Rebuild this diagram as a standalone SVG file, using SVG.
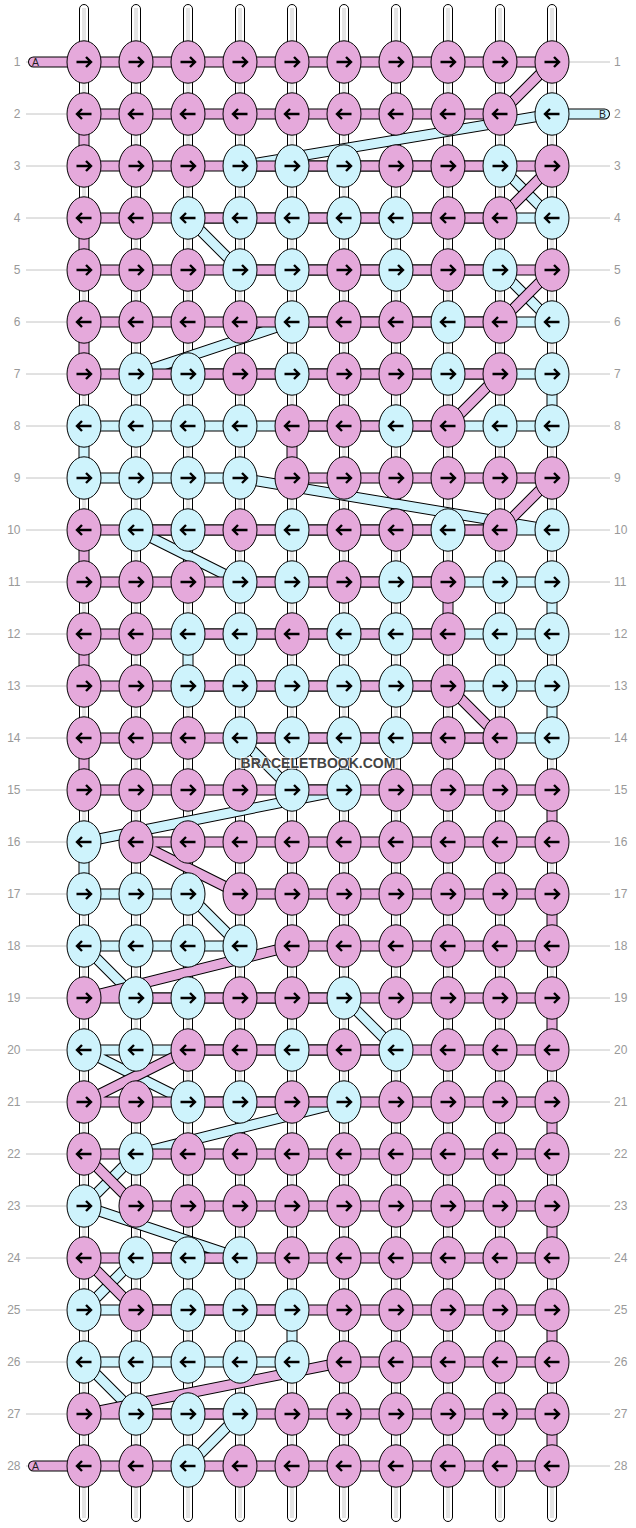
<svg xmlns="http://www.w3.org/2000/svg" width="636" height="1528" viewBox="0 0 636 1528">
<style>
.s{fill:#fff;stroke:#000;stroke-width:1}
.sc{stroke:#bdbdbd;stroke-width:0.8}
.g{stroke:#c4c4c4;stroke-width:1}
.o{fill:none;stroke:#000;stroke-width:11;stroke-linejoin:round;stroke-linecap:round}
.fp{fill:none;stroke:#E5A9DB;stroke-width:9;stroke-linejoin:round;stroke-linecap:round}
.fb{fill:none;stroke:#CEF3FC;stroke-width:9;stroke-linejoin:round;stroke-linecap:round}
.p{fill:#E5A9DB;stroke:#000;stroke-width:1}
.b{fill:#CEF3FC;stroke:#000;stroke-width:1}
.a{fill:none;stroke:#000;stroke-width:2.4}
.n{font-family:"Liberation Sans",Arial,sans-serif;font-size:12px;fill:#999}
.nl{text-anchor:end}
.t{font-family:"Liberation Sans",Arial,sans-serif;font-size:10.5px;fill:#222}
.w{font-family:"Liberation Sans",Arial,sans-serif;font-size:14px;font-weight:bold;fill:#444;text-anchor:middle;stroke:#fff;stroke-width:2;paint-order:stroke;stroke-opacity:0.7}
</style>
<defs>
<path id="R" class="a" d="M-7.5,0H6M2,-5L7,0L2,5"/>
<path id="L" class="a" d="M7.5,0H-6M-2,-5L-7,0L-2,5"/>
</defs>
<g id="strings">
<rect class="s" x="79.5" y="4.5" width="9" height="1517" rx="4.5"/><line class="sc" x1="83" y1="8" x2="83" y2="1518"/><line class="sc" x1="85" y1="8" x2="85" y2="1518"/>
<rect class="s" x="131.5" y="4.5" width="9" height="1517" rx="4.5"/><line class="sc" x1="135" y1="8" x2="135" y2="1518"/><line class="sc" x1="137" y1="8" x2="137" y2="1518"/>
<rect class="s" x="183.5" y="4.5" width="9" height="1517" rx="4.5"/><line class="sc" x1="187" y1="8" x2="187" y2="1518"/><line class="sc" x1="189" y1="8" x2="189" y2="1518"/>
<rect class="s" x="235.5" y="4.5" width="9" height="1517" rx="4.5"/><line class="sc" x1="239" y1="8" x2="239" y2="1518"/><line class="sc" x1="241" y1="8" x2="241" y2="1518"/>
<rect class="s" x="287.5" y="4.5" width="9" height="1517" rx="4.5"/><line class="sc" x1="291" y1="8" x2="291" y2="1518"/><line class="sc" x1="293" y1="8" x2="293" y2="1518"/>
<rect class="s" x="339.5" y="4.5" width="9" height="1517" rx="4.5"/><line class="sc" x1="343" y1="8" x2="343" y2="1518"/><line class="sc" x1="345" y1="8" x2="345" y2="1518"/>
<rect class="s" x="391.5" y="4.5" width="9" height="1517" rx="4.5"/><line class="sc" x1="395" y1="8" x2="395" y2="1518"/><line class="sc" x1="397" y1="8" x2="397" y2="1518"/>
<rect class="s" x="443.5" y="4.5" width="9" height="1517" rx="4.5"/><line class="sc" x1="447" y1="8" x2="447" y2="1518"/><line class="sc" x1="449" y1="8" x2="449" y2="1518"/>
<rect class="s" x="495.5" y="4.5" width="9" height="1517" rx="4.5"/><line class="sc" x1="499" y1="8" x2="499" y2="1518"/><line class="sc" x1="501" y1="8" x2="501" y2="1518"/>
<rect class="s" x="547.5" y="4.5" width="9" height="1517" rx="4.5"/><line class="sc" x1="551" y1="8" x2="551" y2="1518"/><line class="sc" x1="553" y1="8" x2="553" y2="1518"/>
</g>
<g id="guides">
<path class="g" d="M26,62H66M570,62H610M26,114H66M570,114H610M26,166H66M570,166H610M26,218H66M570,218H610M26,270H66M570,270H610M26,322H66M570,322H610M26,374H66M570,374H610M26,426H66M570,426H610M26,478H66M570,478H610M26,530H66M570,530H610M26,582H66M570,582H610M26,634H66M570,634H610M26,686H66M570,686H610M26,738H66M570,738H610M26,790H66M570,790H610M26,842H66M570,842H610M26,894H66M570,894H610M26,946H66M570,946H610M26,998H66M570,998H610M26,1050H66M570,1050H610M26,1102H66M570,1102H610M26,1154H66M570,1154H610M26,1206H66M570,1206H610M26,1258H66M570,1258H610M26,1310H66M570,1310H610M26,1362H66M570,1362H610M26,1414H66M570,1414H610M26,1466H66M570,1466H610"/>
</g>
<g id="connectors">
<g id="stringB">
<path class="o" d="M604.5,114 L552,114 L240,166 L500,166 L552,218 L188,218 L240,270 L500,270 L552,322 L292,322 L136,374 L552,374 L552,426 L84,426 L84,478 L240,478 L552,530 L136,530 L240,582 L552,582 L552,634 L188,634 L188,686 L552,686 L552,738 L240,738 L292,790 L344,790 L84,842 L84,894 L188,894 L240,946 L84,946 L136,998 L344,998 L396,1050 L84,1050 L188,1102 L344,1102 L136,1154 L84,1206 L240,1258 L136,1258 L84,1310 L292,1310 L292,1362 L84,1362 L136,1414 L240,1414 L188,1466"/>
<path class="fb" d="M604.5,114 L552,114 L240,166 L500,166 L552,218 L188,218 L240,270 L500,270 L552,322 L292,322 L136,374 L552,374 L552,426 L84,426 L84,478 L240,478 L552,530 L136,530 L240,582 L552,582 L552,634 L188,634 L188,686 L552,686 L552,738 L240,738 L292,790 L344,790 L84,842 L84,894 L188,894 L240,946 L84,946 L136,998 L344,998 L396,1050 L84,1050 L188,1102 L344,1102 L136,1154 L84,1206 L240,1258 L136,1258 L84,1310 L292,1310 L292,1362 L84,1362 L136,1414 L240,1414 L188,1466"/>
</g>
<g id="stringA">
<path class="o" d="M33.5,62 L84,62 L552,62 L500,114 L84,114 L84,166 L552,166 L500,218 L84,218 L84,270 L552,270 L500,322 L84,322 L84,374 L500,374 L448,426 L292,426 L292,478 L552,478 L500,530 L84,530 L84,582 L448,582 L448,634 L84,634 L84,686 L448,686 L500,738 L84,738 L84,790 L552,790 L552,842 L136,842 L240,894 L552,894 L552,946 L292,946 L84,998 L552,998 L552,1050 L188,1050 L84,1102 L552,1102 L552,1154 L84,1154 L136,1206 L552,1206 L552,1258 L84,1258 L136,1310 L552,1310 L552,1362 L344,1362 L84,1414 L552,1414 L552,1466 L33.5,1466"/>
<path class="fp" d="M33.5,62 L84,62 L552,62 L500,114 L84,114 L84,166 L552,166 L500,218 L84,218 L84,270 L552,270 L500,322 L84,322 L84,374 L500,374 L448,426 L292,426 L292,478 L552,478 L500,530 L84,530 L84,582 L448,582 L448,634 L84,634 L84,686 L448,686 L500,738 L84,738 L84,790 L552,790 L552,842 L136,842 L240,894 L552,894 L552,946 L292,946 L84,998 L552,998 L552,1050 L188,1050 L84,1102 L552,1102 L552,1154 L84,1154 L136,1206 L552,1206 L552,1258 L84,1258 L136,1310 L552,1310 L552,1362 L344,1362 L84,1414 L552,1414 L552,1466 L33.5,1466"/>
</g>
</g>
<g id="tail-labels">
<text class="t" x="32" y="66">A</text>
<text class="t" x="32" y="1470">A</text>
<text class="t" x="599" y="118">B</text>
</g>
<g id="nodes">
<g id="k1-1"><ellipse class="p" cx="84" cy="62" rx="17" ry="21.2"/><use href="#R" x="84" y="62"/></g>
<g id="k1-2"><ellipse class="p" cx="136" cy="62" rx="17" ry="21.2"/><use href="#R" x="136" y="62"/></g>
<g id="k1-3"><ellipse class="p" cx="188" cy="62" rx="17" ry="21.2"/><use href="#R" x="188" y="62"/></g>
<g id="k1-4"><ellipse class="p" cx="240" cy="62" rx="17" ry="21.2"/><use href="#R" x="240" y="62"/></g>
<g id="k1-5"><ellipse class="p" cx="292" cy="62" rx="17" ry="21.2"/><use href="#R" x="292" y="62"/></g>
<g id="k1-6"><ellipse class="p" cx="344" cy="62" rx="17" ry="21.2"/><use href="#R" x="344" y="62"/></g>
<g id="k1-7"><ellipse class="p" cx="396" cy="62" rx="17" ry="21.2"/><use href="#R" x="396" y="62"/></g>
<g id="k1-8"><ellipse class="p" cx="448" cy="62" rx="17" ry="21.2"/><use href="#R" x="448" y="62"/></g>
<g id="k1-9"><ellipse class="p" cx="500" cy="62" rx="17" ry="21.2"/><use href="#R" x="500" y="62"/></g>
<g id="k1-10"><ellipse class="p" cx="552" cy="62" rx="17" ry="21.2"/><use href="#R" x="552" y="62"/></g>
<g id="k2-1"><ellipse class="p" cx="84" cy="114" rx="17" ry="21.2"/><use href="#L" x="84" y="114"/></g>
<g id="k2-2"><ellipse class="p" cx="136" cy="114" rx="17" ry="21.2"/><use href="#L" x="136" y="114"/></g>
<g id="k2-3"><ellipse class="p" cx="188" cy="114" rx="17" ry="21.2"/><use href="#L" x="188" y="114"/></g>
<g id="k2-4"><ellipse class="p" cx="240" cy="114" rx="17" ry="21.2"/><use href="#L" x="240" y="114"/></g>
<g id="k2-5"><ellipse class="p" cx="292" cy="114" rx="17" ry="21.2"/><use href="#L" x="292" y="114"/></g>
<g id="k2-6"><ellipse class="p" cx="344" cy="114" rx="17" ry="21.2"/><use href="#L" x="344" y="114"/></g>
<g id="k2-7"><ellipse class="p" cx="396" cy="114" rx="17" ry="21.2"/><use href="#L" x="396" y="114"/></g>
<g id="k2-8"><ellipse class="p" cx="448" cy="114" rx="17" ry="21.2"/><use href="#L" x="448" y="114"/></g>
<g id="k2-9"><ellipse class="p" cx="500" cy="114" rx="17" ry="21.2"/><use href="#L" x="500" y="114"/></g>
<g id="k2-10"><ellipse class="b" cx="552" cy="114" rx="17" ry="21.2"/><use href="#L" x="552" y="114"/></g>
<g id="k3-1"><ellipse class="p" cx="84" cy="166" rx="17" ry="21.2"/><use href="#R" x="84" y="166"/></g>
<g id="k3-2"><ellipse class="p" cx="136" cy="166" rx="17" ry="21.2"/><use href="#R" x="136" y="166"/></g>
<g id="k3-3"><ellipse class="p" cx="188" cy="166" rx="17" ry="21.2"/><use href="#R" x="188" y="166"/></g>
<g id="k3-4"><ellipse class="b" cx="240" cy="166" rx="17" ry="21.2"/><use href="#R" x="240" y="166"/></g>
<g id="k3-5"><ellipse class="b" cx="292" cy="166" rx="17" ry="21.2"/><use href="#R" x="292" y="166"/></g>
<g id="k3-6"><ellipse class="b" cx="344" cy="166" rx="17" ry="21.2"/><use href="#R" x="344" y="166"/></g>
<g id="k3-7"><ellipse class="p" cx="396" cy="166" rx="17" ry="21.2"/><use href="#R" x="396" y="166"/></g>
<g id="k3-8"><ellipse class="p" cx="448" cy="166" rx="17" ry="21.2"/><use href="#R" x="448" y="166"/></g>
<g id="k3-9"><ellipse class="b" cx="500" cy="166" rx="17" ry="21.2"/><use href="#R" x="500" y="166"/></g>
<g id="k3-10"><ellipse class="p" cx="552" cy="166" rx="17" ry="21.2"/><use href="#R" x="552" y="166"/></g>
<g id="k4-1"><ellipse class="p" cx="84" cy="218" rx="17" ry="21.2"/><use href="#L" x="84" y="218"/></g>
<g id="k4-2"><ellipse class="p" cx="136" cy="218" rx="17" ry="21.2"/><use href="#L" x="136" y="218"/></g>
<g id="k4-3"><ellipse class="b" cx="188" cy="218" rx="17" ry="21.2"/><use href="#L" x="188" y="218"/></g>
<g id="k4-4"><ellipse class="b" cx="240" cy="218" rx="17" ry="21.2"/><use href="#L" x="240" y="218"/></g>
<g id="k4-5"><ellipse class="b" cx="292" cy="218" rx="17" ry="21.2"/><use href="#L" x="292" y="218"/></g>
<g id="k4-6"><ellipse class="b" cx="344" cy="218" rx="17" ry="21.2"/><use href="#L" x="344" y="218"/></g>
<g id="k4-7"><ellipse class="b" cx="396" cy="218" rx="17" ry="21.2"/><use href="#L" x="396" y="218"/></g>
<g id="k4-8"><ellipse class="p" cx="448" cy="218" rx="17" ry="21.2"/><use href="#L" x="448" y="218"/></g>
<g id="k4-9"><ellipse class="p" cx="500" cy="218" rx="17" ry="21.2"/><use href="#L" x="500" y="218"/></g>
<g id="k4-10"><ellipse class="b" cx="552" cy="218" rx="17" ry="21.2"/><use href="#L" x="552" y="218"/></g>
<g id="k5-1"><ellipse class="p" cx="84" cy="270" rx="17" ry="21.2"/><use href="#R" x="84" y="270"/></g>
<g id="k5-2"><ellipse class="p" cx="136" cy="270" rx="17" ry="21.2"/><use href="#R" x="136" y="270"/></g>
<g id="k5-3"><ellipse class="p" cx="188" cy="270" rx="17" ry="21.2"/><use href="#R" x="188" y="270"/></g>
<g id="k5-4"><ellipse class="b" cx="240" cy="270" rx="17" ry="21.2"/><use href="#R" x="240" y="270"/></g>
<g id="k5-5"><ellipse class="b" cx="292" cy="270" rx="17" ry="21.2"/><use href="#R" x="292" y="270"/></g>
<g id="k5-6"><ellipse class="p" cx="344" cy="270" rx="17" ry="21.2"/><use href="#R" x="344" y="270"/></g>
<g id="k5-7"><ellipse class="b" cx="396" cy="270" rx="17" ry="21.2"/><use href="#R" x="396" y="270"/></g>
<g id="k5-8"><ellipse class="p" cx="448" cy="270" rx="17" ry="21.2"/><use href="#R" x="448" y="270"/></g>
<g id="k5-9"><ellipse class="b" cx="500" cy="270" rx="17" ry="21.2"/><use href="#R" x="500" y="270"/></g>
<g id="k5-10"><ellipse class="p" cx="552" cy="270" rx="17" ry="21.2"/><use href="#R" x="552" y="270"/></g>
<g id="k6-1"><ellipse class="p" cx="84" cy="322" rx="17" ry="21.2"/><use href="#L" x="84" y="322"/></g>
<g id="k6-2"><ellipse class="p" cx="136" cy="322" rx="17" ry="21.2"/><use href="#L" x="136" y="322"/></g>
<g id="k6-3"><ellipse class="p" cx="188" cy="322" rx="17" ry="21.2"/><use href="#L" x="188" y="322"/></g>
<g id="k6-4"><ellipse class="p" cx="240" cy="322" rx="17" ry="21.2"/><use href="#L" x="240" y="322"/></g>
<g id="k6-5"><ellipse class="b" cx="292" cy="322" rx="17" ry="21.2"/><use href="#L" x="292" y="322"/></g>
<g id="k6-6"><ellipse class="p" cx="344" cy="322" rx="17" ry="21.2"/><use href="#L" x="344" y="322"/></g>
<g id="k6-7"><ellipse class="p" cx="396" cy="322" rx="17" ry="21.2"/><use href="#L" x="396" y="322"/></g>
<g id="k6-8"><ellipse class="b" cx="448" cy="322" rx="17" ry="21.2"/><use href="#L" x="448" y="322"/></g>
<g id="k6-9"><ellipse class="p" cx="500" cy="322" rx="17" ry="21.2"/><use href="#L" x="500" y="322"/></g>
<g id="k6-10"><ellipse class="b" cx="552" cy="322" rx="17" ry="21.2"/><use href="#L" x="552" y="322"/></g>
<g id="k7-1"><ellipse class="p" cx="84" cy="374" rx="17" ry="21.2"/><use href="#R" x="84" y="374"/></g>
<g id="k7-2"><ellipse class="b" cx="136" cy="374" rx="17" ry="21.2"/><use href="#R" x="136" y="374"/></g>
<g id="k7-3"><ellipse class="b" cx="188" cy="374" rx="17" ry="21.2"/><use href="#R" x="188" y="374"/></g>
<g id="k7-4"><ellipse class="p" cx="240" cy="374" rx="17" ry="21.2"/><use href="#R" x="240" y="374"/></g>
<g id="k7-5"><ellipse class="b" cx="292" cy="374" rx="17" ry="21.2"/><use href="#R" x="292" y="374"/></g>
<g id="k7-6"><ellipse class="p" cx="344" cy="374" rx="17" ry="21.2"/><use href="#R" x="344" y="374"/></g>
<g id="k7-7"><ellipse class="p" cx="396" cy="374" rx="17" ry="21.2"/><use href="#R" x="396" y="374"/></g>
<g id="k7-8"><ellipse class="b" cx="448" cy="374" rx="17" ry="21.2"/><use href="#R" x="448" y="374"/></g>
<g id="k7-9"><ellipse class="p" cx="500" cy="374" rx="17" ry="21.2"/><use href="#R" x="500" y="374"/></g>
<g id="k7-10"><ellipse class="b" cx="552" cy="374" rx="17" ry="21.2"/><use href="#R" x="552" y="374"/></g>
<g id="k8-1"><ellipse class="b" cx="84" cy="426" rx="17" ry="21.2"/><use href="#L" x="84" y="426"/></g>
<g id="k8-2"><ellipse class="b" cx="136" cy="426" rx="17" ry="21.2"/><use href="#L" x="136" y="426"/></g>
<g id="k8-3"><ellipse class="b" cx="188" cy="426" rx="17" ry="21.2"/><use href="#L" x="188" y="426"/></g>
<g id="k8-4"><ellipse class="b" cx="240" cy="426" rx="17" ry="21.2"/><use href="#L" x="240" y="426"/></g>
<g id="k8-5"><ellipse class="p" cx="292" cy="426" rx="17" ry="21.2"/><use href="#L" x="292" y="426"/></g>
<g id="k8-6"><ellipse class="p" cx="344" cy="426" rx="17" ry="21.2"/><use href="#L" x="344" y="426"/></g>
<g id="k8-7"><ellipse class="b" cx="396" cy="426" rx="17" ry="21.2"/><use href="#L" x="396" y="426"/></g>
<g id="k8-8"><ellipse class="p" cx="448" cy="426" rx="17" ry="21.2"/><use href="#L" x="448" y="426"/></g>
<g id="k8-9"><ellipse class="b" cx="500" cy="426" rx="17" ry="21.2"/><use href="#L" x="500" y="426"/></g>
<g id="k8-10"><ellipse class="b" cx="552" cy="426" rx="17" ry="21.2"/><use href="#L" x="552" y="426"/></g>
<g id="k9-1"><ellipse class="b" cx="84" cy="478" rx="17" ry="21.2"/><use href="#R" x="84" y="478"/></g>
<g id="k9-2"><ellipse class="b" cx="136" cy="478" rx="17" ry="21.2"/><use href="#R" x="136" y="478"/></g>
<g id="k9-3"><ellipse class="b" cx="188" cy="478" rx="17" ry="21.2"/><use href="#R" x="188" y="478"/></g>
<g id="k9-4"><ellipse class="b" cx="240" cy="478" rx="17" ry="21.2"/><use href="#R" x="240" y="478"/></g>
<g id="k9-5"><ellipse class="p" cx="292" cy="478" rx="17" ry="21.2"/><use href="#R" x="292" y="478"/></g>
<g id="k9-6"><ellipse class="p" cx="344" cy="478" rx="17" ry="21.2"/><use href="#R" x="344" y="478"/></g>
<g id="k9-7"><ellipse class="p" cx="396" cy="478" rx="17" ry="21.2"/><use href="#R" x="396" y="478"/></g>
<g id="k9-8"><ellipse class="p" cx="448" cy="478" rx="17" ry="21.2"/><use href="#R" x="448" y="478"/></g>
<g id="k9-9"><ellipse class="p" cx="500" cy="478" rx="17" ry="21.2"/><use href="#R" x="500" y="478"/></g>
<g id="k9-10"><ellipse class="p" cx="552" cy="478" rx="17" ry="21.2"/><use href="#R" x="552" y="478"/></g>
<g id="k10-1"><ellipse class="p" cx="84" cy="530" rx="17" ry="21.2"/><use href="#L" x="84" y="530"/></g>
<g id="k10-2"><ellipse class="b" cx="136" cy="530" rx="17" ry="21.2"/><use href="#L" x="136" y="530"/></g>
<g id="k10-3"><ellipse class="b" cx="188" cy="530" rx="17" ry="21.2"/><use href="#L" x="188" y="530"/></g>
<g id="k10-4"><ellipse class="p" cx="240" cy="530" rx="17" ry="21.2"/><use href="#L" x="240" y="530"/></g>
<g id="k10-5"><ellipse class="b" cx="292" cy="530" rx="17" ry="21.2"/><use href="#L" x="292" y="530"/></g>
<g id="k10-6"><ellipse class="p" cx="344" cy="530" rx="17" ry="21.2"/><use href="#L" x="344" y="530"/></g>
<g id="k10-7"><ellipse class="p" cx="396" cy="530" rx="17" ry="21.2"/><use href="#L" x="396" y="530"/></g>
<g id="k10-8"><ellipse class="b" cx="448" cy="530" rx="17" ry="21.2"/><use href="#L" x="448" y="530"/></g>
<g id="k10-9"><ellipse class="p" cx="500" cy="530" rx="17" ry="21.2"/><use href="#L" x="500" y="530"/></g>
<g id="k10-10"><ellipse class="b" cx="552" cy="530" rx="17" ry="21.2"/><use href="#L" x="552" y="530"/></g>
<g id="k11-1"><ellipse class="p" cx="84" cy="582" rx="17" ry="21.2"/><use href="#R" x="84" y="582"/></g>
<g id="k11-2"><ellipse class="p" cx="136" cy="582" rx="17" ry="21.2"/><use href="#R" x="136" y="582"/></g>
<g id="k11-3"><ellipse class="p" cx="188" cy="582" rx="17" ry="21.2"/><use href="#R" x="188" y="582"/></g>
<g id="k11-4"><ellipse class="b" cx="240" cy="582" rx="17" ry="21.2"/><use href="#R" x="240" y="582"/></g>
<g id="k11-5"><ellipse class="b" cx="292" cy="582" rx="17" ry="21.2"/><use href="#R" x="292" y="582"/></g>
<g id="k11-6"><ellipse class="p" cx="344" cy="582" rx="17" ry="21.2"/><use href="#R" x="344" y="582"/></g>
<g id="k11-7"><ellipse class="b" cx="396" cy="582" rx="17" ry="21.2"/><use href="#R" x="396" y="582"/></g>
<g id="k11-8"><ellipse class="p" cx="448" cy="582" rx="17" ry="21.2"/><use href="#R" x="448" y="582"/></g>
<g id="k11-9"><ellipse class="b" cx="500" cy="582" rx="17" ry="21.2"/><use href="#R" x="500" y="582"/></g>
<g id="k11-10"><ellipse class="b" cx="552" cy="582" rx="17" ry="21.2"/><use href="#R" x="552" y="582"/></g>
<g id="k12-1"><ellipse class="p" cx="84" cy="634" rx="17" ry="21.2"/><use href="#L" x="84" y="634"/></g>
<g id="k12-2"><ellipse class="p" cx="136" cy="634" rx="17" ry="21.2"/><use href="#L" x="136" y="634"/></g>
<g id="k12-3"><ellipse class="b" cx="188" cy="634" rx="17" ry="21.2"/><use href="#L" x="188" y="634"/></g>
<g id="k12-4"><ellipse class="b" cx="240" cy="634" rx="17" ry="21.2"/><use href="#L" x="240" y="634"/></g>
<g id="k12-5"><ellipse class="p" cx="292" cy="634" rx="17" ry="21.2"/><use href="#L" x="292" y="634"/></g>
<g id="k12-6"><ellipse class="b" cx="344" cy="634" rx="17" ry="21.2"/><use href="#L" x="344" y="634"/></g>
<g id="k12-7"><ellipse class="b" cx="396" cy="634" rx="17" ry="21.2"/><use href="#L" x="396" y="634"/></g>
<g id="k12-8"><ellipse class="p" cx="448" cy="634" rx="17" ry="21.2"/><use href="#L" x="448" y="634"/></g>
<g id="k12-9"><ellipse class="b" cx="500" cy="634" rx="17" ry="21.2"/><use href="#L" x="500" y="634"/></g>
<g id="k12-10"><ellipse class="b" cx="552" cy="634" rx="17" ry="21.2"/><use href="#L" x="552" y="634"/></g>
<g id="k13-1"><ellipse class="p" cx="84" cy="686" rx="17" ry="21.2"/><use href="#R" x="84" y="686"/></g>
<g id="k13-2"><ellipse class="p" cx="136" cy="686" rx="17" ry="21.2"/><use href="#R" x="136" y="686"/></g>
<g id="k13-3"><ellipse class="b" cx="188" cy="686" rx="17" ry="21.2"/><use href="#R" x="188" y="686"/></g>
<g id="k13-4"><ellipse class="b" cx="240" cy="686" rx="17" ry="21.2"/><use href="#R" x="240" y="686"/></g>
<g id="k13-5"><ellipse class="b" cx="292" cy="686" rx="17" ry="21.2"/><use href="#R" x="292" y="686"/></g>
<g id="k13-6"><ellipse class="b" cx="344" cy="686" rx="17" ry="21.2"/><use href="#R" x="344" y="686"/></g>
<g id="k13-7"><ellipse class="b" cx="396" cy="686" rx="17" ry="21.2"/><use href="#R" x="396" y="686"/></g>
<g id="k13-8"><ellipse class="p" cx="448" cy="686" rx="17" ry="21.2"/><use href="#R" x="448" y="686"/></g>
<g id="k13-9"><ellipse class="b" cx="500" cy="686" rx="17" ry="21.2"/><use href="#R" x="500" y="686"/></g>
<g id="k13-10"><ellipse class="b" cx="552" cy="686" rx="17" ry="21.2"/><use href="#R" x="552" y="686"/></g>
<g id="k14-1"><ellipse class="p" cx="84" cy="738" rx="17" ry="21.2"/><use href="#L" x="84" y="738"/></g>
<g id="k14-2"><ellipse class="p" cx="136" cy="738" rx="17" ry="21.2"/><use href="#L" x="136" y="738"/></g>
<g id="k14-3"><ellipse class="p" cx="188" cy="738" rx="17" ry="21.2"/><use href="#L" x="188" y="738"/></g>
<g id="k14-4"><ellipse class="b" cx="240" cy="738" rx="17" ry="21.2"/><use href="#L" x="240" y="738"/></g>
<g id="k14-5"><ellipse class="b" cx="292" cy="738" rx="17" ry="21.2"/><use href="#L" x="292" y="738"/></g>
<g id="k14-6"><ellipse class="b" cx="344" cy="738" rx="17" ry="21.2"/><use href="#L" x="344" y="738"/></g>
<g id="k14-7"><ellipse class="b" cx="396" cy="738" rx="17" ry="21.2"/><use href="#L" x="396" y="738"/></g>
<g id="k14-8"><ellipse class="p" cx="448" cy="738" rx="17" ry="21.2"/><use href="#L" x="448" y="738"/></g>
<g id="k14-9"><ellipse class="p" cx="500" cy="738" rx="17" ry="21.2"/><use href="#L" x="500" y="738"/></g>
<g id="k14-10"><ellipse class="b" cx="552" cy="738" rx="17" ry="21.2"/><use href="#L" x="552" y="738"/></g>
<g id="k15-1"><ellipse class="p" cx="84" cy="790" rx="17" ry="21.2"/><use href="#R" x="84" y="790"/></g>
<g id="k15-2"><ellipse class="p" cx="136" cy="790" rx="17" ry="21.2"/><use href="#R" x="136" y="790"/></g>
<g id="k15-3"><ellipse class="p" cx="188" cy="790" rx="17" ry="21.2"/><use href="#R" x="188" y="790"/></g>
<g id="k15-4"><ellipse class="p" cx="240" cy="790" rx="17" ry="21.2"/><use href="#R" x="240" y="790"/></g>
<g id="k15-5"><ellipse class="b" cx="292" cy="790" rx="17" ry="21.2"/><use href="#R" x="292" y="790"/></g>
<g id="k15-6"><ellipse class="b" cx="344" cy="790" rx="17" ry="21.2"/><use href="#R" x="344" y="790"/></g>
<g id="k15-7"><ellipse class="p" cx="396" cy="790" rx="17" ry="21.2"/><use href="#R" x="396" y="790"/></g>
<g id="k15-8"><ellipse class="p" cx="448" cy="790" rx="17" ry="21.2"/><use href="#R" x="448" y="790"/></g>
<g id="k15-9"><ellipse class="p" cx="500" cy="790" rx="17" ry="21.2"/><use href="#R" x="500" y="790"/></g>
<g id="k15-10"><ellipse class="p" cx="552" cy="790" rx="17" ry="21.2"/><use href="#R" x="552" y="790"/></g>
<g id="k16-1"><ellipse class="b" cx="84" cy="842" rx="17" ry="21.2"/><use href="#L" x="84" y="842"/></g>
<g id="k16-2"><ellipse class="p" cx="136" cy="842" rx="17" ry="21.2"/><use href="#L" x="136" y="842"/></g>
<g id="k16-3"><ellipse class="p" cx="188" cy="842" rx="17" ry="21.2"/><use href="#L" x="188" y="842"/></g>
<g id="k16-4"><ellipse class="p" cx="240" cy="842" rx="17" ry="21.2"/><use href="#L" x="240" y="842"/></g>
<g id="k16-5"><ellipse class="p" cx="292" cy="842" rx="17" ry="21.2"/><use href="#L" x="292" y="842"/></g>
<g id="k16-6"><ellipse class="p" cx="344" cy="842" rx="17" ry="21.2"/><use href="#L" x="344" y="842"/></g>
<g id="k16-7"><ellipse class="p" cx="396" cy="842" rx="17" ry="21.2"/><use href="#L" x="396" y="842"/></g>
<g id="k16-8"><ellipse class="p" cx="448" cy="842" rx="17" ry="21.2"/><use href="#L" x="448" y="842"/></g>
<g id="k16-9"><ellipse class="p" cx="500" cy="842" rx="17" ry="21.2"/><use href="#L" x="500" y="842"/></g>
<g id="k16-10"><ellipse class="p" cx="552" cy="842" rx="17" ry="21.2"/><use href="#L" x="552" y="842"/></g>
<g id="k17-1"><ellipse class="b" cx="84" cy="894" rx="17" ry="21.2"/><use href="#R" x="84" y="894"/></g>
<g id="k17-2"><ellipse class="b" cx="136" cy="894" rx="17" ry="21.2"/><use href="#R" x="136" y="894"/></g>
<g id="k17-3"><ellipse class="b" cx="188" cy="894" rx="17" ry="21.2"/><use href="#R" x="188" y="894"/></g>
<g id="k17-4"><ellipse class="p" cx="240" cy="894" rx="17" ry="21.2"/><use href="#R" x="240" y="894"/></g>
<g id="k17-5"><ellipse class="p" cx="292" cy="894" rx="17" ry="21.2"/><use href="#R" x="292" y="894"/></g>
<g id="k17-6"><ellipse class="p" cx="344" cy="894" rx="17" ry="21.2"/><use href="#R" x="344" y="894"/></g>
<g id="k17-7"><ellipse class="p" cx="396" cy="894" rx="17" ry="21.2"/><use href="#R" x="396" y="894"/></g>
<g id="k17-8"><ellipse class="p" cx="448" cy="894" rx="17" ry="21.2"/><use href="#R" x="448" y="894"/></g>
<g id="k17-9"><ellipse class="p" cx="500" cy="894" rx="17" ry="21.2"/><use href="#R" x="500" y="894"/></g>
<g id="k17-10"><ellipse class="p" cx="552" cy="894" rx="17" ry="21.2"/><use href="#R" x="552" y="894"/></g>
<g id="k18-1"><ellipse class="b" cx="84" cy="946" rx="17" ry="21.2"/><use href="#L" x="84" y="946"/></g>
<g id="k18-2"><ellipse class="b" cx="136" cy="946" rx="17" ry="21.2"/><use href="#L" x="136" y="946"/></g>
<g id="k18-3"><ellipse class="b" cx="188" cy="946" rx="17" ry="21.2"/><use href="#L" x="188" y="946"/></g>
<g id="k18-4"><ellipse class="b" cx="240" cy="946" rx="17" ry="21.2"/><use href="#L" x="240" y="946"/></g>
<g id="k18-5"><ellipse class="p" cx="292" cy="946" rx="17" ry="21.2"/><use href="#L" x="292" y="946"/></g>
<g id="k18-6"><ellipse class="p" cx="344" cy="946" rx="17" ry="21.2"/><use href="#L" x="344" y="946"/></g>
<g id="k18-7"><ellipse class="p" cx="396" cy="946" rx="17" ry="21.2"/><use href="#L" x="396" y="946"/></g>
<g id="k18-8"><ellipse class="p" cx="448" cy="946" rx="17" ry="21.2"/><use href="#L" x="448" y="946"/></g>
<g id="k18-9"><ellipse class="p" cx="500" cy="946" rx="17" ry="21.2"/><use href="#L" x="500" y="946"/></g>
<g id="k18-10"><ellipse class="p" cx="552" cy="946" rx="17" ry="21.2"/><use href="#L" x="552" y="946"/></g>
<g id="k19-1"><ellipse class="p" cx="84" cy="998" rx="17" ry="21.2"/><use href="#R" x="84" y="998"/></g>
<g id="k19-2"><ellipse class="b" cx="136" cy="998" rx="17" ry="21.2"/><use href="#R" x="136" y="998"/></g>
<g id="k19-3"><ellipse class="b" cx="188" cy="998" rx="17" ry="21.2"/><use href="#R" x="188" y="998"/></g>
<g id="k19-4"><ellipse class="p" cx="240" cy="998" rx="17" ry="21.2"/><use href="#R" x="240" y="998"/></g>
<g id="k19-5"><ellipse class="p" cx="292" cy="998" rx="17" ry="21.2"/><use href="#R" x="292" y="998"/></g>
<g id="k19-6"><ellipse class="b" cx="344" cy="998" rx="17" ry="21.2"/><use href="#R" x="344" y="998"/></g>
<g id="k19-7"><ellipse class="p" cx="396" cy="998" rx="17" ry="21.2"/><use href="#R" x="396" y="998"/></g>
<g id="k19-8"><ellipse class="p" cx="448" cy="998" rx="17" ry="21.2"/><use href="#R" x="448" y="998"/></g>
<g id="k19-9"><ellipse class="p" cx="500" cy="998" rx="17" ry="21.2"/><use href="#R" x="500" y="998"/></g>
<g id="k19-10"><ellipse class="p" cx="552" cy="998" rx="17" ry="21.2"/><use href="#R" x="552" y="998"/></g>
<g id="k20-1"><ellipse class="b" cx="84" cy="1050" rx="17" ry="21.2"/><use href="#L" x="84" y="1050"/></g>
<g id="k20-2"><ellipse class="b" cx="136" cy="1050" rx="17" ry="21.2"/><use href="#L" x="136" y="1050"/></g>
<g id="k20-3"><ellipse class="p" cx="188" cy="1050" rx="17" ry="21.2"/><use href="#L" x="188" y="1050"/></g>
<g id="k20-4"><ellipse class="p" cx="240" cy="1050" rx="17" ry="21.2"/><use href="#L" x="240" y="1050"/></g>
<g id="k20-5"><ellipse class="b" cx="292" cy="1050" rx="17" ry="21.2"/><use href="#L" x="292" y="1050"/></g>
<g id="k20-6"><ellipse class="p" cx="344" cy="1050" rx="17" ry="21.2"/><use href="#L" x="344" y="1050"/></g>
<g id="k20-7"><ellipse class="b" cx="396" cy="1050" rx="17" ry="21.2"/><use href="#L" x="396" y="1050"/></g>
<g id="k20-8"><ellipse class="p" cx="448" cy="1050" rx="17" ry="21.2"/><use href="#L" x="448" y="1050"/></g>
<g id="k20-9"><ellipse class="p" cx="500" cy="1050" rx="17" ry="21.2"/><use href="#L" x="500" y="1050"/></g>
<g id="k20-10"><ellipse class="p" cx="552" cy="1050" rx="17" ry="21.2"/><use href="#L" x="552" y="1050"/></g>
<g id="k21-1"><ellipse class="p" cx="84" cy="1102" rx="17" ry="21.2"/><use href="#R" x="84" y="1102"/></g>
<g id="k21-2"><ellipse class="p" cx="136" cy="1102" rx="17" ry="21.2"/><use href="#R" x="136" y="1102"/></g>
<g id="k21-3"><ellipse class="b" cx="188" cy="1102" rx="17" ry="21.2"/><use href="#R" x="188" y="1102"/></g>
<g id="k21-4"><ellipse class="b" cx="240" cy="1102" rx="17" ry="21.2"/><use href="#R" x="240" y="1102"/></g>
<g id="k21-5"><ellipse class="p" cx="292" cy="1102" rx="17" ry="21.2"/><use href="#R" x="292" y="1102"/></g>
<g id="k21-6"><ellipse class="b" cx="344" cy="1102" rx="17" ry="21.2"/><use href="#R" x="344" y="1102"/></g>
<g id="k21-7"><ellipse class="p" cx="396" cy="1102" rx="17" ry="21.2"/><use href="#R" x="396" y="1102"/></g>
<g id="k21-8"><ellipse class="p" cx="448" cy="1102" rx="17" ry="21.2"/><use href="#R" x="448" y="1102"/></g>
<g id="k21-9"><ellipse class="p" cx="500" cy="1102" rx="17" ry="21.2"/><use href="#R" x="500" y="1102"/></g>
<g id="k21-10"><ellipse class="p" cx="552" cy="1102" rx="17" ry="21.2"/><use href="#R" x="552" y="1102"/></g>
<g id="k22-1"><ellipse class="p" cx="84" cy="1154" rx="17" ry="21.2"/><use href="#L" x="84" y="1154"/></g>
<g id="k22-2"><ellipse class="b" cx="136" cy="1154" rx="17" ry="21.2"/><use href="#L" x="136" y="1154"/></g>
<g id="k22-3"><ellipse class="p" cx="188" cy="1154" rx="17" ry="21.2"/><use href="#L" x="188" y="1154"/></g>
<g id="k22-4"><ellipse class="p" cx="240" cy="1154" rx="17" ry="21.2"/><use href="#L" x="240" y="1154"/></g>
<g id="k22-5"><ellipse class="p" cx="292" cy="1154" rx="17" ry="21.2"/><use href="#L" x="292" y="1154"/></g>
<g id="k22-6"><ellipse class="p" cx="344" cy="1154" rx="17" ry="21.2"/><use href="#L" x="344" y="1154"/></g>
<g id="k22-7"><ellipse class="p" cx="396" cy="1154" rx="17" ry="21.2"/><use href="#L" x="396" y="1154"/></g>
<g id="k22-8"><ellipse class="p" cx="448" cy="1154" rx="17" ry="21.2"/><use href="#L" x="448" y="1154"/></g>
<g id="k22-9"><ellipse class="p" cx="500" cy="1154" rx="17" ry="21.2"/><use href="#L" x="500" y="1154"/></g>
<g id="k22-10"><ellipse class="p" cx="552" cy="1154" rx="17" ry="21.2"/><use href="#L" x="552" y="1154"/></g>
<g id="k23-1"><ellipse class="b" cx="84" cy="1206" rx="17" ry="21.2"/><use href="#R" x="84" y="1206"/></g>
<g id="k23-2"><ellipse class="p" cx="136" cy="1206" rx="17" ry="21.2"/><use href="#R" x="136" y="1206"/></g>
<g id="k23-3"><ellipse class="p" cx="188" cy="1206" rx="17" ry="21.2"/><use href="#R" x="188" y="1206"/></g>
<g id="k23-4"><ellipse class="p" cx="240" cy="1206" rx="17" ry="21.2"/><use href="#R" x="240" y="1206"/></g>
<g id="k23-5"><ellipse class="p" cx="292" cy="1206" rx="17" ry="21.2"/><use href="#R" x="292" y="1206"/></g>
<g id="k23-6"><ellipse class="p" cx="344" cy="1206" rx="17" ry="21.2"/><use href="#R" x="344" y="1206"/></g>
<g id="k23-7"><ellipse class="p" cx="396" cy="1206" rx="17" ry="21.2"/><use href="#R" x="396" y="1206"/></g>
<g id="k23-8"><ellipse class="p" cx="448" cy="1206" rx="17" ry="21.2"/><use href="#R" x="448" y="1206"/></g>
<g id="k23-9"><ellipse class="p" cx="500" cy="1206" rx="17" ry="21.2"/><use href="#R" x="500" y="1206"/></g>
<g id="k23-10"><ellipse class="p" cx="552" cy="1206" rx="17" ry="21.2"/><use href="#R" x="552" y="1206"/></g>
<g id="k24-1"><ellipse class="p" cx="84" cy="1258" rx="17" ry="21.2"/><use href="#L" x="84" y="1258"/></g>
<g id="k24-2"><ellipse class="b" cx="136" cy="1258" rx="17" ry="21.2"/><use href="#L" x="136" y="1258"/></g>
<g id="k24-3"><ellipse class="b" cx="188" cy="1258" rx="17" ry="21.2"/><use href="#L" x="188" y="1258"/></g>
<g id="k24-4"><ellipse class="b" cx="240" cy="1258" rx="17" ry="21.2"/><use href="#L" x="240" y="1258"/></g>
<g id="k24-5"><ellipse class="p" cx="292" cy="1258" rx="17" ry="21.2"/><use href="#L" x="292" y="1258"/></g>
<g id="k24-6"><ellipse class="p" cx="344" cy="1258" rx="17" ry="21.2"/><use href="#L" x="344" y="1258"/></g>
<g id="k24-7"><ellipse class="p" cx="396" cy="1258" rx="17" ry="21.2"/><use href="#L" x="396" y="1258"/></g>
<g id="k24-8"><ellipse class="p" cx="448" cy="1258" rx="17" ry="21.2"/><use href="#L" x="448" y="1258"/></g>
<g id="k24-9"><ellipse class="p" cx="500" cy="1258" rx="17" ry="21.2"/><use href="#L" x="500" y="1258"/></g>
<g id="k24-10"><ellipse class="p" cx="552" cy="1258" rx="17" ry="21.2"/><use href="#L" x="552" y="1258"/></g>
<g id="k25-1"><ellipse class="b" cx="84" cy="1310" rx="17" ry="21.2"/><use href="#R" x="84" y="1310"/></g>
<g id="k25-2"><ellipse class="p" cx="136" cy="1310" rx="17" ry="21.2"/><use href="#R" x="136" y="1310"/></g>
<g id="k25-3"><ellipse class="b" cx="188" cy="1310" rx="17" ry="21.2"/><use href="#R" x="188" y="1310"/></g>
<g id="k25-4"><ellipse class="b" cx="240" cy="1310" rx="17" ry="21.2"/><use href="#R" x="240" y="1310"/></g>
<g id="k25-5"><ellipse class="b" cx="292" cy="1310" rx="17" ry="21.2"/><use href="#R" x="292" y="1310"/></g>
<g id="k25-6"><ellipse class="p" cx="344" cy="1310" rx="17" ry="21.2"/><use href="#R" x="344" y="1310"/></g>
<g id="k25-7"><ellipse class="p" cx="396" cy="1310" rx="17" ry="21.2"/><use href="#R" x="396" y="1310"/></g>
<g id="k25-8"><ellipse class="p" cx="448" cy="1310" rx="17" ry="21.2"/><use href="#R" x="448" y="1310"/></g>
<g id="k25-9"><ellipse class="p" cx="500" cy="1310" rx="17" ry="21.2"/><use href="#R" x="500" y="1310"/></g>
<g id="k25-10"><ellipse class="p" cx="552" cy="1310" rx="17" ry="21.2"/><use href="#R" x="552" y="1310"/></g>
<g id="k26-1"><ellipse class="b" cx="84" cy="1362" rx="17" ry="21.2"/><use href="#L" x="84" y="1362"/></g>
<g id="k26-2"><ellipse class="b" cx="136" cy="1362" rx="17" ry="21.2"/><use href="#L" x="136" y="1362"/></g>
<g id="k26-3"><ellipse class="b" cx="188" cy="1362" rx="17" ry="21.2"/><use href="#L" x="188" y="1362"/></g>
<g id="k26-4"><ellipse class="b" cx="240" cy="1362" rx="17" ry="21.2"/><use href="#L" x="240" y="1362"/></g>
<g id="k26-5"><ellipse class="b" cx="292" cy="1362" rx="17" ry="21.2"/><use href="#L" x="292" y="1362"/></g>
<g id="k26-6"><ellipse class="p" cx="344" cy="1362" rx="17" ry="21.2"/><use href="#L" x="344" y="1362"/></g>
<g id="k26-7"><ellipse class="p" cx="396" cy="1362" rx="17" ry="21.2"/><use href="#L" x="396" y="1362"/></g>
<g id="k26-8"><ellipse class="p" cx="448" cy="1362" rx="17" ry="21.2"/><use href="#L" x="448" y="1362"/></g>
<g id="k26-9"><ellipse class="p" cx="500" cy="1362" rx="17" ry="21.2"/><use href="#L" x="500" y="1362"/></g>
<g id="k26-10"><ellipse class="p" cx="552" cy="1362" rx="17" ry="21.2"/><use href="#L" x="552" y="1362"/></g>
<g id="k27-1"><ellipse class="p" cx="84" cy="1414" rx="17" ry="21.2"/><use href="#R" x="84" y="1414"/></g>
<g id="k27-2"><ellipse class="b" cx="136" cy="1414" rx="17" ry="21.2"/><use href="#R" x="136" y="1414"/></g>
<g id="k27-3"><ellipse class="b" cx="188" cy="1414" rx="17" ry="21.2"/><use href="#R" x="188" y="1414"/></g>
<g id="k27-4"><ellipse class="b" cx="240" cy="1414" rx="17" ry="21.2"/><use href="#R" x="240" y="1414"/></g>
<g id="k27-5"><ellipse class="p" cx="292" cy="1414" rx="17" ry="21.2"/><use href="#R" x="292" y="1414"/></g>
<g id="k27-6"><ellipse class="p" cx="344" cy="1414" rx="17" ry="21.2"/><use href="#R" x="344" y="1414"/></g>
<g id="k27-7"><ellipse class="p" cx="396" cy="1414" rx="17" ry="21.2"/><use href="#R" x="396" y="1414"/></g>
<g id="k27-8"><ellipse class="p" cx="448" cy="1414" rx="17" ry="21.2"/><use href="#R" x="448" y="1414"/></g>
<g id="k27-9"><ellipse class="p" cx="500" cy="1414" rx="17" ry="21.2"/><use href="#R" x="500" y="1414"/></g>
<g id="k27-10"><ellipse class="p" cx="552" cy="1414" rx="17" ry="21.2"/><use href="#R" x="552" y="1414"/></g>
<g id="k28-1"><ellipse class="p" cx="84" cy="1466" rx="17" ry="21.2"/><use href="#L" x="84" y="1466"/></g>
<g id="k28-2"><ellipse class="p" cx="136" cy="1466" rx="17" ry="21.2"/><use href="#L" x="136" y="1466"/></g>
<g id="k28-3"><ellipse class="b" cx="188" cy="1466" rx="17" ry="21.2"/><use href="#L" x="188" y="1466"/></g>
<g id="k28-4"><ellipse class="p" cx="240" cy="1466" rx="17" ry="21.2"/><use href="#L" x="240" y="1466"/></g>
<g id="k28-5"><ellipse class="p" cx="292" cy="1466" rx="17" ry="21.2"/><use href="#L" x="292" y="1466"/></g>
<g id="k28-6"><ellipse class="p" cx="344" cy="1466" rx="17" ry="21.2"/><use href="#L" x="344" y="1466"/></g>
<g id="k28-7"><ellipse class="p" cx="396" cy="1466" rx="17" ry="21.2"/><use href="#L" x="396" y="1466"/></g>
<g id="k28-8"><ellipse class="p" cx="448" cy="1466" rx="17" ry="21.2"/><use href="#L" x="448" y="1466"/></g>
<g id="k28-9"><ellipse class="p" cx="500" cy="1466" rx="17" ry="21.2"/><use href="#L" x="500" y="1466"/></g>
<g id="k28-10"><ellipse class="p" cx="552" cy="1466" rx="17" ry="21.2"/><use href="#L" x="552" y="1466"/></g>
</g>
<g id="row-numbers">
<text class="n nl" x="20.5" y="66">1</text><text class="n" x="614" y="66">1</text>
<text class="n nl" x="20.5" y="118">2</text><text class="n" x="614" y="118">2</text>
<text class="n nl" x="20.5" y="170">3</text><text class="n" x="614" y="170">3</text>
<text class="n nl" x="20.5" y="222">4</text><text class="n" x="614" y="222">4</text>
<text class="n nl" x="20.5" y="274">5</text><text class="n" x="614" y="274">5</text>
<text class="n nl" x="20.5" y="326">6</text><text class="n" x="614" y="326">6</text>
<text class="n nl" x="20.5" y="378">7</text><text class="n" x="614" y="378">7</text>
<text class="n nl" x="20.5" y="430">8</text><text class="n" x="614" y="430">8</text>
<text class="n nl" x="20.5" y="482">9</text><text class="n" x="614" y="482">9</text>
<text class="n nl" x="20.5" y="534">10</text><text class="n" x="614" y="534">10</text>
<text class="n nl" x="20.5" y="586">11</text><text class="n" x="614" y="586">11</text>
<text class="n nl" x="20.5" y="638">12</text><text class="n" x="614" y="638">12</text>
<text class="n nl" x="20.5" y="690">13</text><text class="n" x="614" y="690">13</text>
<text class="n nl" x="20.5" y="742">14</text><text class="n" x="614" y="742">14</text>
<text class="n nl" x="20.5" y="794">15</text><text class="n" x="614" y="794">15</text>
<text class="n nl" x="20.5" y="846">16</text><text class="n" x="614" y="846">16</text>
<text class="n nl" x="20.5" y="898">17</text><text class="n" x="614" y="898">17</text>
<text class="n nl" x="20.5" y="950">18</text><text class="n" x="614" y="950">18</text>
<text class="n nl" x="20.5" y="1002">19</text><text class="n" x="614" y="1002">19</text>
<text class="n nl" x="20.5" y="1054">20</text><text class="n" x="614" y="1054">20</text>
<text class="n nl" x="20.5" y="1106">21</text><text class="n" x="614" y="1106">21</text>
<text class="n nl" x="20.5" y="1158">22</text><text class="n" x="614" y="1158">22</text>
<text class="n nl" x="20.5" y="1210">23</text><text class="n" x="614" y="1210">23</text>
<text class="n nl" x="20.5" y="1262">24</text><text class="n" x="614" y="1262">24</text>
<text class="n nl" x="20.5" y="1314">25</text><text class="n" x="614" y="1314">25</text>
<text class="n nl" x="20.5" y="1366">26</text><text class="n" x="614" y="1366">26</text>
<text class="n nl" x="20.5" y="1418">27</text><text class="n" x="614" y="1418">27</text>
<text class="n nl" x="20.5" y="1470">28</text><text class="n" x="614" y="1470">28</text>
</g>
<text class="w" x="318" y="768">BRACELETBOOK.COM</text>
</svg>
